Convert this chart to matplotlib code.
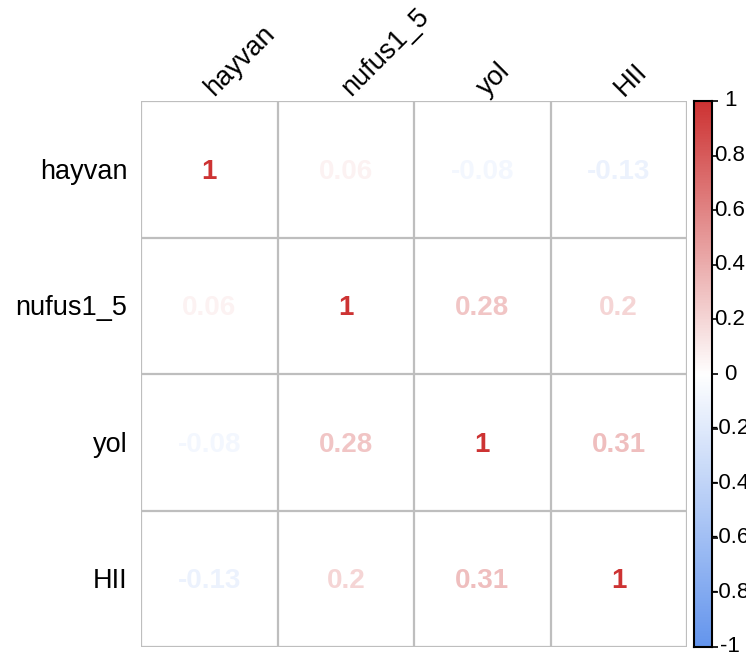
import numpy as np
import matplotlib
matplotlib.use('Agg')
import matplotlib.pyplot as plt
import matplotlib.colors as clr
import matplotlib.transforms as mtrans

plt.rcParams['font.family'] = ['Liberation Sans', 'DejaVu Sans']

# Variables et matrice de corrélation
degiskenler = ['hayvan', 'nufus1_5', 'yol', 'HII']
kor = [[1.00, 0.06, -0.08, -0.13],
       [0.06, 1.00, 0.28, 0.20],
       [-0.08, 0.28, 1.00, 0.31],
       [-0.13, 0.20, 0.31, 1.00]]
kor_etiket = [['1', '0.06', '-0.08', '-0.13'],
              ['0.06', '1', '0.28', '0.2'],
              ['-0.08', '0.28', '1', '0.31'],
              ['-0.13', '0.2', '0.31', '1']]
cb_ticks = [1, 0.8, 0.6, 0.4, 0.2, 0, -0.2, -0.4, -0.6, -0.8, -1]
cb_labels = ['1', '0.8', '0.6', '0.4', '0.2', '0', '-0.2', '-0.4', '-0.6', '-0.8', '-1']

W, H = 746, 659
fig = plt.figure(figsize=(W/100, H/100), dpi=100)
cmap = clr.LinearSegmentedColormap.from_list('bwr2', ['#6495ED', '#FFFFFF', '#CD3333'], N=200)
norm = clr.Normalize(-1, 1)

# Grille principale
x0, x1, y0, y1 = 141, 687, 101, 647
ax = fig.add_axes([x0/W, 1-y1/H, (x1-x0)/W, (y1-y0)/H])
n = len(degiskenler)
ax.set_xlim(0, n)
ax.set_ylim(n, 0)
for i in range(n+1):
    ax.axhline(i, color='#BEBEBE', lw=1.6)
    ax.axvline(i, color='#BEBEBE', lw=1.6)
for i in range(n):
    for j in range(n):
        ax.text(j+0.5, i+0.52, kor_etiket[i][j], ha='center', va='center',
                fontsize=20, fontweight='bold', color=cmap(norm(kor[i][j])))
ax.set_xticks([])
ax.set_yticks([])
for s in ax.spines.values():
    s.set_visible(False)

# Etiquettes lignes / colonnes
for i, nom in enumerate(degiskenler):
    ax.text(-0.1, i+0.52, nom, ha='right', va='center', fontsize=19.5)
    ax.text(i+0.535, -0.03, nom, ha='left', va='baseline', rotation=45,
            rotation_mode='anchor', fontsize=19.5)

# Barre de couleur
cax = fig.add_axes([694/W, 1-y1/H, 18/W, (y1-y0)/H])
grad = np.linspace(-1, 1, 400).reshape(-1, 1)
cax.imshow(grad, aspect='auto', cmap=cmap, norm=norm, origin='lower', extent=[0, 1, -1, 1])
cax.set_xticks([])
cax.set_yticks(cb_ticks)
cax.set_yticklabels([])
cax.yaxis.tick_right()
cax.tick_params(axis='y', direction='out', length=4, width=1.2, color='black')
for s in cax.spines.values():
    s.set_linewidth(1.5)
tr = mtrans.blended_transform_factory(fig.transFigure, cax.transData)
for v, lab in zip(cb_ticks, cb_labels):
    fig.text(730/W, v, lab, transform=tr, ha='center', va='center', fontsize=16)

fig.savefig('out.png', dpi=100)
